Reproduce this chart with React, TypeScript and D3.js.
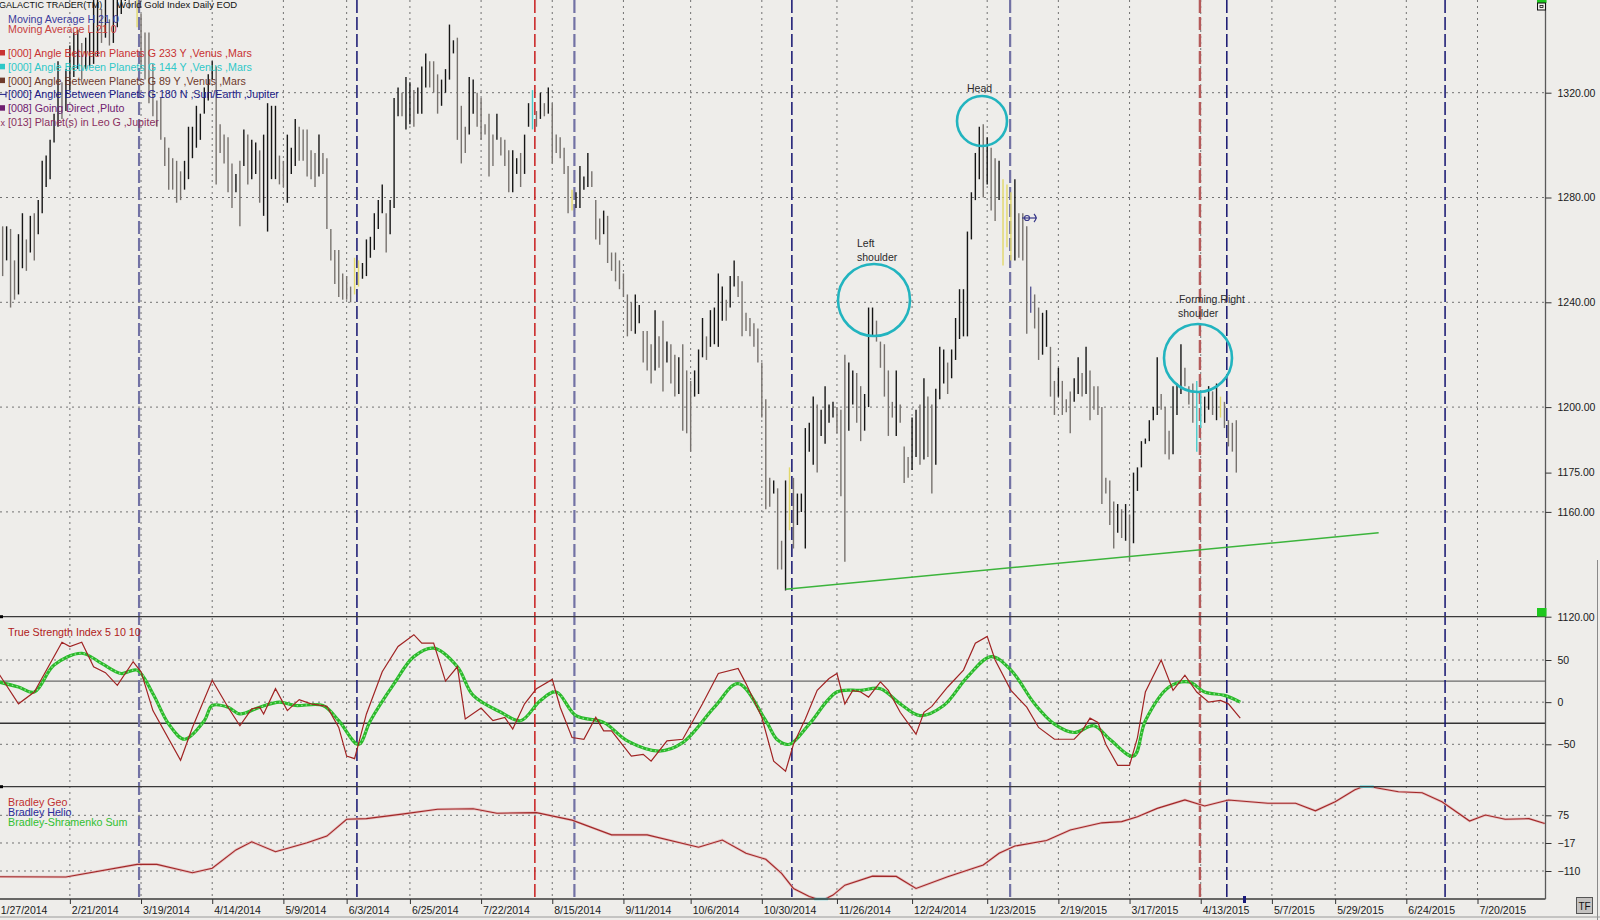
import React, { useEffect, useRef } from 'react';
import * as d3 from 'd3';

const width = 1600;
const height = 920;
const plotRight = 1545.5;
const pricePanel = [0, 616.7];
const tsiPanel = [616.7, 786.7];
const bradPanel = [786.7, 899];
const font = '"Liberation Sans", Arial, sans-serif';

// daily bars, index 0 = 1/27/2014
const barHigh = [
  1280, 1269, 1269, 1268, 1256, 1266, 1274, 1264, 1273, 1274,
  1279, 1294, 1296, 1302, 1312, 1332, 1324, 1329, 1338, 1343,
  1344, 1339, 1341, 1343, 1360, 1362, 1352, 1366, 1348, 1368,
  1375, 1380, 1385, 1378, 1392, 1385, 1350, 1343, 1343, 1331,
  1317, 1318, 1303, 1299, 1295, 1294, 1290, 1294, 1307, 1307,
  1315, 1312, 1322, 1327, 1332, 1330, 1308, 1304, 1303, 1293,
  1289, 1294, 1306, 1304, 1302, 1301, 1298, 1304, 1316, 1315,
  1315, 1296, 1294, 1304, 1299, 1310, 1307, 1306, 1306, 1298,
  1297, 1304, 1297, 1295, 1268, 1260, 1260, 1251, 1250, 1246,
  1257, 1256, 1255, 1264, 1265, 1274, 1279, 1285, 1274, 1279,
  1318, 1322, 1320, 1326, 1324, 1321, 1322, 1330, 1335, 1332,
  1332, 1327, 1325, 1329, 1346, 1340, 1341, 1315, 1307, 1326,
  1325, 1320, 1318, 1308, 1312, 1304, 1312, 1303, 1302, 1298,
  1298, 1295, 1297, 1304, 1316, 1321, 1313, 1320, 1316, 1322,
  1316, 1304, 1303, 1299, 1292, 1283, 1282, 1292, 1288, 1297,
  1290, 1279, 1272, 1275, 1273, 1259, 1259, 1256, 1251, 1243,
  1240, 1243, 1239, 1229, 1229, 1224, 1237, 1227, 1233, 1225,
  1224, 1220, 1219, 1224, 1214, 1210, 1214, 1222, 1234, 1227,
  1237, 1238, 1251, 1246, 1241, 1250, 1256, 1250, 1248, 1236,
  1234, 1232, 1230, 1217, 1203, 1173, 1172, 1169, 1149, 1172,
  1177, 1173, 1167, 1167, 1192, 1194, 1204, 1201, 1199, 1208,
  1201, 1202, 1200, 1199, 1220, 1217, 1214, 1213, 1208, 1205,
  1238, 1238, 1233, 1225, 1224, 1214, 1202, 1214, 1201, 1185,
  1181, 1196, 1199, 1201, 1211, 1204, 1201, 1207, 1223, 1222,
  1217, 1222, 1234, 1245, 1245, 1267, 1282, 1297, 1307, 1308,
  1303, 1299, 1295, 1294, 1287, 1285, 1282, 1287, 1274, 1274,
  1269, 1246, 1243, 1238, 1236, 1237, 1223, 1210, 1215, 1210,
  1203, 1206, 1211, 1219, 1213, 1223, 1214, 1208, 1208, 1200,
  1173, 1172, 1164, 1163, 1161, 1163, 1159, 1175, 1177, 1187,
  1188, 1195, 1200, 1219, 1205, 1200, 1191, 1208, 1209, 1224,
  1215, 1208, 1209, 1210, 1206, 1204, 1208, 1206, 1209, 1204,
  1202, 1195, 1194, 1195,
];
const barLow = [
  1257, 1250, 1256, 1238, 1241, 1243, 1253, 1252, 1259, 1256,
  1266, 1274, 1284, 1287, 1301, 1307, 1310, 1313, 1321, 1326,
  1329, 1325, 1329, 1330, 1331, 1334, 1339, 1341, 1338, 1339,
  1345, 1350, 1355, 1352, 1360, 1345, 1329, 1325, 1316, 1311,
  1307, 1302, 1292, 1283, 1283, 1278, 1279, 1283, 1287, 1295,
  1299, 1302, 1312, 1317, 1325, 1285, 1297, 1293, 1282, 1276,
  1282, 1269, 1292, 1285, 1287, 1289, 1278, 1273, 1267, 1287,
  1287, 1285, 1284, 1278, 1289, 1292, 1294, 1294, 1288, 1287,
  1284, 1288, 1289, 1268, 1256, 1247, 1242, 1241, 1241, 1240,
  1243, 1246, 1249, 1250, 1257, 1260, 1268, 1274, 1259, 1266,
  1276, 1311, 1311, 1306, 1308, 1307, 1312, 1312, 1322, 1322,
  1320, 1312, 1315, 1320, 1325, 1335, 1302, 1293, 1297, 1304,
  1312, 1307, 1302, 1304, 1288, 1292, 1302, 1296, 1292, 1282,
  1282, 1289, 1284, 1289, 1307, 1306, 1307, 1310, 1311, 1312,
  1293, 1297, 1295, 1289, 1274, 1275, 1276, 1276, 1283, 1284,
  1284, 1264, 1262, 1266, 1255, 1252, 1248, 1245, 1242, 1227,
  1229, 1228, 1232, 1217, 1214, 1209, 1214, 1215, 1206, 1217,
  1209, 1204, 1205, 1191, 1190, 1183, 1204, 1205, 1219, 1218,
  1223, 1224, 1223, 1233, 1233, 1238, 1246, 1242, 1227, 1229,
  1227, 1223, 1217, 1196, 1161, 1162, 1167, 1138, 1138, 1130,
  1153, 1146, 1155, 1160, 1146, 1183, 1178, 1175, 1189, 1186,
  1194, 1196, 1190, 1166, 1141, 1191, 1201, 1194, 1187, 1191,
  1200, 1227, 1225, 1215, 1204, 1189, 1196, 1189, 1194, 1171,
  1173, 1176, 1181, 1178, 1180, 1181, 1167, 1178, 1203, 1209,
  1205, 1211, 1218, 1226, 1227, 1227, 1264, 1279, 1287, 1280,
  1285, 1275, 1271, 1279, 1254, 1261, 1256, 1256, 1257, 1256,
  1228, 1236, 1230, 1218, 1220, 1223, 1204, 1197, 1204, 1197,
  1198, 1190, 1202, 1205, 1204, 1205, 1195, 1199, 1197, 1163,
  1167, 1155, 1146, 1152, 1150, 1149, 1141, 1148, 1168, 1177,
  1186, 1187, 1195, 1197, 1199, 1182, 1180, 1182, 1197, 1205,
  1208, 1201, 1194, 1183, 1192, 1194, 1199, 1197, 1195, 1196,
  1192, 1185, 1183, 1175,
];
const yellowBars = [35, 90, 91, 145, 200, 254, 255, 256, 309];
const cyanBars = [135, 303, 304];
const navyBars = [261];

// True Strength Index 5 10 10 and its signal (bar index, value)
const tsiIdx = [0, 5, 9, 16, 18, 21, 24, 27, 30, 34, 36, 39, 46, 49, 54, 58, 61, 64, 66, 67, 70, 73, 76, 79, 83, 86, 88, 90, 93, 97, 101, 105, 107, 110, 113, 116, 118, 122, 125, 128, 130, 133, 136, 140, 142, 145, 148, 151, 153, 155, 160, 163, 165, 169, 173, 178, 182, 187, 189, 193, 196, 199, 201, 204, 207, 210, 212, 214, 216, 218, 220, 223, 225, 228, 232, 234, 236, 240, 244, 247, 250, 252, 256, 260, 263, 267, 272, 274, 276, 278, 280, 283, 286, 288, 290, 294, 297, 300, 303, 306, 309, 311, 314];
const tsiVal = [34, -2, 12, 71, 66, 71, 42, 35, 20, 48, 36, -10, -69, -30, 26, -6, -28, -8, -6, -14, 16, -10, 3, -2, -5, -30, -64, -67, -14, 36, 66, 80, 70, 70, 25, 42, -20, -7, -22, -18, -32, -2, 16, 27, -6, -42, -44, -18, -34, -34, -64, -62, -70, -46, -44, -2, 34, 40, 22, -18, -70, -82, -50, -20, 14, 28, 34, -2, 14, 12, 6, 24, 14, -12, -38, -12, -5, 18, 38, 70, 78, 50, 14, -6, -30, -44, -44, -34, -19, -24, -50, -75, -75, -42, 12, 50, 14, 32, 12, 0, 2, -2, -19];
const sigIdx = [0, 5, 9, 14, 21, 26, 31, 35, 39, 43, 47, 52, 54, 58, 61, 66, 71, 75, 82, 86, 91, 94, 100, 105, 110, 116, 120, 127, 132, 137, 141, 146, 153, 159, 167, 173, 181, 187, 194, 197, 200, 205, 212, 218, 223, 228, 233, 239, 245, 251, 256, 262, 267, 272, 277, 281, 287, 290, 296, 301, 305, 310, 314];
const sigVal = [24, 18, 12, 44, 58, 46, 34, 38, 10, -26, -44, -22, -4, -6, -14, -6, 0, -4, -4, -22, -50, -22, 22, 54, 64, 42, 8, -12, -22, 2, 12, -16, -24, -46, -58, -48, -6, 22, -22, -45, -50, -26, 12, 14, 16, -2, -16, -4, 30, 54, 38, -2, -26, -36, -28, -44, -64, -22, 18, 24, 12, 8, 0];

// Bradley Geo (bar index, value)
const bradIdx = [0, 17, 35, 40, 49, 54, 60, 64, 70, 78, 83, 88, 93, 102, 111, 120, 126, 136, 145, 155, 164, 177, 183, 189, 194, 198, 201, 205, 207, 209, 211, 214, 221, 227, 232, 240, 249, 253, 257, 265, 271, 279, 284, 288, 293, 300, 305, 311, 321, 328, 333, 338, 343, 345, 347, 349, 354, 360, 365, 372, 376, 381, 387, 391];
const bradVal = [-129, -130, -88, -88, -116, -101, -40, -13, -46, -16, 6, 62, 64, 79, 95, 97, 82, 84, 59, 10, 10, -31, -7, -51, -71, -118, -168, -195, -203, -203, -190, -157, -127, -128, -168, -129, -90, -51, -27, -9, 26, 50, 54, 70, 98, 126, 106, 126, 115, 115, 90, 120, 160, 170, 170, 165, 153, 150, 120, 56, 76, 62, 64, 48];

const tickIdx = [0, 18, 36, 54, 72, 88, 104, 122, 140, 158, 175, 193, 212, 231, 250, 268, 286, 304, 322, 338, 356, 374];
const tickLabels = ['1/27/2014', '2/21/2014', '3/19/2014', '4/14/2014', '5/9/2014', '6/3/2014', '6/25/2014', '7/22/2014', '8/15/2014', '9/11/2014', '10/6/2014', '10/30/2014', '11/26/2014', '12/24/2014', '1/23/2015', '2/19/2015', '3/17/2015', '4/13/2015', '5/7/2015', '5/29/2015', '6/24/2015', '7/20/2015'];
const priceTicks = [1320, 1280, 1240, 1200, 1175, 1160, 1120];
const priceGrid = [1320, 1280, 1240, 1200, 1160];
const tsiTicks = [50, 0, -50];
const tsiBands = [25, -25];
const bradTicks = [75, -17, -110];

// planetary event lines
const eventIdx = [35.5, 90.6, 135.6, 145.6, 200.6, 255.8, 303.8, 310.6, 365.8];
const eventKind = ['p144', 'p180', 'p233', 'p144', 'p180', 'p144', 'p233b', 'p180', 'p180'];
const eventStyle = {
  p180: { c: '#141470', w: 1.5 },
  p144: { c: '#7272a4', w: 2.2 },
  p233: { c: '#c81e1e', w: 1.5 },
  p233b: { c: '#b45a5a', w: 2.4 },
};

const trendIdx = [199, 349];
const trendVal = [1130.5, 1152];

const legendNames = [
  '[000] Angle Between Planets G 233 Y ,Venus ,Mars',
  '[000] Angle Between Planets G 144 Y ,Venus ,Mars',
  '[000] Angle Between Planets G 89 Y ,Venus ,Mars',
  '[000] Angle Between Planets G 180 N ,Sun/Earth ,Jupiter',
  '[008] Going Direct ,Pluto',
  '[013] Planet(s) in Leo G ,Jupiter',
];
const legendColors = ['#c83232', '#2ec8c8', '#6e3a2c', '#1a1a86', '#702070', '#8a3060'];
const legendMarks = ['sq', 'sq', 'sq', 'bar', 'sq', 'x'];

export default function App() {
  const ref = useRef(null);

  useEffect(() => {
    const svg = d3.select(ref.current);
    svg.selectAll('*').remove();

    const x = d3.scaleLinear().domain([0, 374]).range([-1.3, 1477.5]);
    const yP = d3.scaleLinear().domain([1120, 1320]).range([616.7, 92.7]);
    const yT = d3.scaleLinear().domain([-50, 50]).range([744.3, 660]);
    const yB = d3.scaleLinear().domain([-110, 75]).range([871, 815.3]);

    svg.append('rect').attr('width', width).attr('height', height).attr('fill', '#eeedea');

    const defs = svg.append('defs');
    [['cp', pricePanel], ['ct', tsiPanel], ['cb', bradPanel]].forEach(([id, p]: any) => {
      defs.append('clipPath').attr('id', id)
        .append('rect').attr('x', 0).attr('y', p[0]).attr('width', plotRight).attr('height', p[1] - p[0]);
    });

    const grid = svg.append('g').attr('stroke', '#727272').attr('stroke-width', 1).attr('stroke-dasharray', '2,4');
    tickIdx.forEach(d => {
      grid.append('line').attr('x1', x(d)).attr('x2', x(d)).attr('y1', 0).attr('y2', bradPanel[1]);
    });
    const hLines = [
      ...priceGrid.map(v => yP(v)),
      ...tsiTicks.map(v => yT(v)),
      ...bradTicks.map(v => yB(v)),
    ];
    hLines.forEach(y => {
      grid.append('line').attr('x1', 0).attr('x2', plotRight).attr('y1', y).attr('y2', y);
    });

    tsiBands.forEach(v => {
      svg.append('line').attr('x1', 0).attr('x2', plotRight).attr('y1', yT(v)).attr('y2', yT(v))
        .attr('stroke', v > 0 ? '#6a6a6a' : '#333').attr('stroke-width', 1.3);
    });

    // event lines
    eventIdx.forEach((d, i) => {
      const s = eventStyle[eventKind[i]];
      svg.append('line').attr('x1', x(d)).attr('x2', x(d)).attr('y1', 0).attr('y2', bradPanel[1])
        .attr('stroke', s.c).attr('stroke-width', s.w).attr('stroke-dasharray', '13,4');
    });

    // price bars
    const bars = svg.append('g').attr('clip-path', 'url(#cp)');
    barHigh.forEach((h, i) => {
      const l = barLow[i];
      const mid = (h + l) / 2;
      const prev = i > 0 ? (barHigh[i - 1] + barLow[i - 1]) / 2 : mid;
      let c = mid >= prev ? '#161616' : '#77726e';
      if (yellowBars.includes(i)) c = '#e2d86a';
      if (cyanBars.includes(i)) c = '#48cccc';
      if (navyBars.includes(i)) c = '#5a5a96';
      bars.append('line').attr('x1', x(i)).attr('x2', x(i)).attr('y1', yP(h)).attr('y2', yP(l))
        .attr('stroke', c).attr('stroke-width', 1.4);
    });

    // trend line
    svg.append('line')
      .attr('x1', x(trendIdx[0])).attr('y1', yP(trendVal[0]))
      .attr('x2', x(trendIdx[1])).attr('y2', yP(trendVal[1]))
      .attr('stroke', '#3cb43c').attr('stroke-width', 1.5);

    // head & shoulders annotations
    const ann = svg.append('g');
    const circ = (cx, cy, r) => ann.append('circle').attr('cx', cx).attr('cy', cy).attr('r', r)
      .attr('fill', 'none').attr('stroke', '#22b4bf').attr('stroke-width', 2.6);
    circ(874, 300, 36);
    circ(982, 121, 25);
    circ(1198, 358, 34);
    const note = (t, tx, ty) => ann.append('text').attr('x', tx).attr('y', ty).text(t)
      .attr('font-family', font).attr('font-size', 10.5).attr('fill', '#2a2a2a');
    note('Left', 857, 247);
    note('shoulder', 857, 261);
    note('Head', 967, 92);
    note('.Forming Right', 1176, 303);
    note('shoulder', 1178, 317);

    // cursor marker
    const mk = svg.append('g').attr('stroke', '#3a3a8a').attr('stroke-width', 1.2).attr('fill', 'none');
    mk.append('line').attr('x1', 1022).attr('x2', 1037).attr('y1', 218).attr('y2', 218);
    mk.append('circle').attr('cx', 1027).attr('cy', 218).attr('r', 2.5);
    mk.append('path').attr('d', 'M1034,214 Q1038,218 1034,222');

    // TSI
    const tsiG = svg.append('g').attr('clip-path', 'url(#ct)');
    const sigLine = d3.line<number>().x(d => x(sigIdx[d])).y(d => yT(sigVal[d])).curve(d3.curveCatmullRom);
    const sigPath = sigLine(sigIdx.map((_, i) => i));
    tsiG.append('path').attr('d', sigPath).attr('fill', 'none').attr('stroke', '#2aba2a').attr('stroke-width', 3.2);
    tsiG.append('path').attr('d', sigPath).attr('fill', 'none').attr('stroke', '#8ee08e')
      .attr('stroke-width', 1.4).attr('stroke-dasharray', '1.5,3');
    const tsiLine = d3.line<number>().x(d => x(tsiIdx[d])).y(d => yT(tsiVal[d]));
    tsiG.append('path').attr('d', tsiLine(tsiIdx.map((_, i) => i))).attr('fill', 'none')
      .attr('stroke', '#a02424').attr('stroke-width', 1.2);

    // Bradley
    const bG = svg.append('g').attr('clip-path', 'url(#cb)');
    const bLine = d3.line<number>().x(d => x(bradIdx[d])).y(d => yB(bradVal[d]));
    const bPath = bLine(bradIdx.map((_, i) => i));
    bG.append('path').attr('d', bPath).attr('fill', 'none').attr('stroke', '#e8c0c0').attr('stroke-width', 2.6);
    bG.append('path').attr('d', bPath).attr('fill', 'none').attr('stroke', '#a02828').attr('stroke-width', 1.1);
    bradIdx.forEach((d, i) => {
      if (i === 0) return;
      const a = bradVal[i - 1], b = bradVal[i];
      if ((a === b) && (a >= 170 || a <= -203)) {
        svg.append('line').attr('x1', x(bradIdx[i - 1]) - 3).attr('x2', x(d) + 3)
          .attr('y1', yB(a)).attr('y2', yB(b)).attr('stroke', '#5ed2d8').attr('stroke-width', 2.5);
      }
    });

    // panel borders
    const frame = svg.append('g').attr('stroke', '#3a3a3a');
    [pricePanel[1], tsiPanel[1]].forEach(y => {
      frame.append('line').attr('x1', 0).attr('x2', plotRight).attr('y1', y).attr('y2', y).attr('stroke-width', 1.3);
      frame.append('line').attr('x1', 0).attr('x2', 3).attr('y1', y).attr('y2', y).attr('stroke', '#000').attr('stroke-width', 3);
    });
    frame.append('line').attr('x1', 0).attr('x2', plotRight).attr('y1', bradPanel[1]).attr('y2', bradPanel[1]).attr('stroke-width', 1.3);
    frame.append('line').attr('x1', plotRight).attr('x2', plotRight).attr('y1', 0).attr('y2', bradPanel[1])
      .attr('stroke', '#5a5a5a').attr('stroke-width', 1.3);
    frame.append('line').attr('x1', 1597.5).attr('x2', 1597.5).attr('y1', 560).attr('y2', height).attr('stroke', '#8a8a8a');
    frame.append('line').attr('x1', 0).attr('x2', width).attr('y1', 917).attr('y2', 917).attr('stroke', '#9a9a9a');

    // right axes
    const styleAxis = (g) => {
      g.select('.domain').remove();
      g.selectAll('line').attr('stroke', '#333');
      g.selectAll('text').attr('font-family', font).attr('font-size', 10.5).attr('fill', '#1a1a1a');
    };
    svg.append('g').attr('transform', `translate(${plotRight},0)`)
      .call(d3.axisRight(yP).tickValues(priceTicks).tickFormat(d3.format('.2f')).tickSize(6).tickPadding(6))
      .call(styleAxis);
    svg.append('g').attr('transform', `translate(${plotRight},0)`)
      .call(d3.axisRight(yT).tickValues(tsiTicks).tickFormat(d3.format('d')).tickSize(6).tickPadding(6))
      .call(styleAxis);
    svg.append('g').attr('transform', `translate(${plotRight},0)`)
      .call(d3.axisRight(yB).tickValues(bradTicks).tickFormat(d3.format('d')).tickSize(6).tickPadding(6))
      .call(styleAxis);

    // date axis
    const xg = svg.append('g').attr('transform', `translate(0,${bradPanel[1]})`)
      .call(d3.axisBottom(x).tickValues(tickIdx).tickFormat((d, i) => tickLabels[i]).tickSize(5))
      .call(styleAxis);
    xg.selectAll('text').attr('text-anchor', 'start').attr('x', 1.5).attr('y', 15).attr('dy', 0);

    // markers on the frame
    svg.append('rect').attr('x', 1537).attr('y', 608).attr('width', 9.5).attr('height', 8.5).attr('fill', '#1ec81e');
    svg.append('rect').attr('x', 1537).attr('y', 0).attr('width', 9.5).attr('height', 3).attr('fill', '#1ec81e');
    svg.append('rect').attr('x', 1537.5).attr('y', 3).attr('width', 8).attr('height', 7)
      .attr('fill', '#eeedea').attr('stroke', '#111').attr('stroke-width', 1);
    svg.append('rect').attr('x', 1540).attr('y', 5.5).attr('width', 3).attr('height', 2)
      .attr('fill', 'none').attr('stroke', '#111').attr('stroke-width', 0.8);
    svg.append('rect').attr('x', 1243).attr('y', 896).attr('width', 3).attr('height', 7).attr('fill', '#1a1a7a');
    svg.append('rect').attr('x', 1576.5).attr('y', 897.5).attr('width', 16).attr('height', 16)
      .attr('fill', '#c4c2c0').attr('stroke', '#555');
    svg.append('text').attr('x', 1584.5).attr('y', 909.5).attr('text-anchor', 'middle').text('TF')
      .attr('font-family', font).attr('font-size', 10).attr('fill', '#111');

    // legends
    const txt = (t, tx, ty, c, size = 10.7) => svg.append('text').attr('x', tx).attr('y', ty).text(t)
      .attr('font-family', font).attr('font-size', size).attr('fill', c);
    txt('GALACTIC TRADER(TM)', -1, 8, '#111', 9);
    txt('World Gold Index Daily EOD', 117, 8, '#111', 9.5);
    txt('Moving Average H 21 0', 8, 23, '#3c3c9c');
    txt('Moving Average L 21 0', 8, 33, '#c84040');
    legendNames.forEach((t, i) => {
      const ty = 57 + i * 13.8;
      txt(t, 8, ty, legendColors[i]);
      if (legendMarks[i] === 'sq') {
        svg.append('rect').attr('x', 0).attr('y', ty - 7).attr('width', 5).attr('height', 5.5).attr('fill', legendColors[i]);
      } else if (legendMarks[i] === 'bar') {
        svg.append('path').attr('d', `M0,${ty - 4}H6M6,${ty - 7}V${ty - 1}`).attr('stroke', legendColors[i]).attr('stroke-width', 1);
      } else {
        txt('x', 0.5, ty, legendColors[i], 9);
      }
    });
    txt('True Strength Index 5 10 10', 8, 636, '#b02020');
    txt('Bradley Geo', 8, 805.5, '#c03030');
    txt('Bradley Helio', 8, 815.5, '#2a2a9a');
    txt('Bradley-Shramenko Sum', 8, 825.5, '#30c030');
  }, []);

  return (
    <svg ref={ref} width={width} height={height}
      style={{ position: 'absolute', left: 0, top: 0, display: 'block' }} />
  );
}
